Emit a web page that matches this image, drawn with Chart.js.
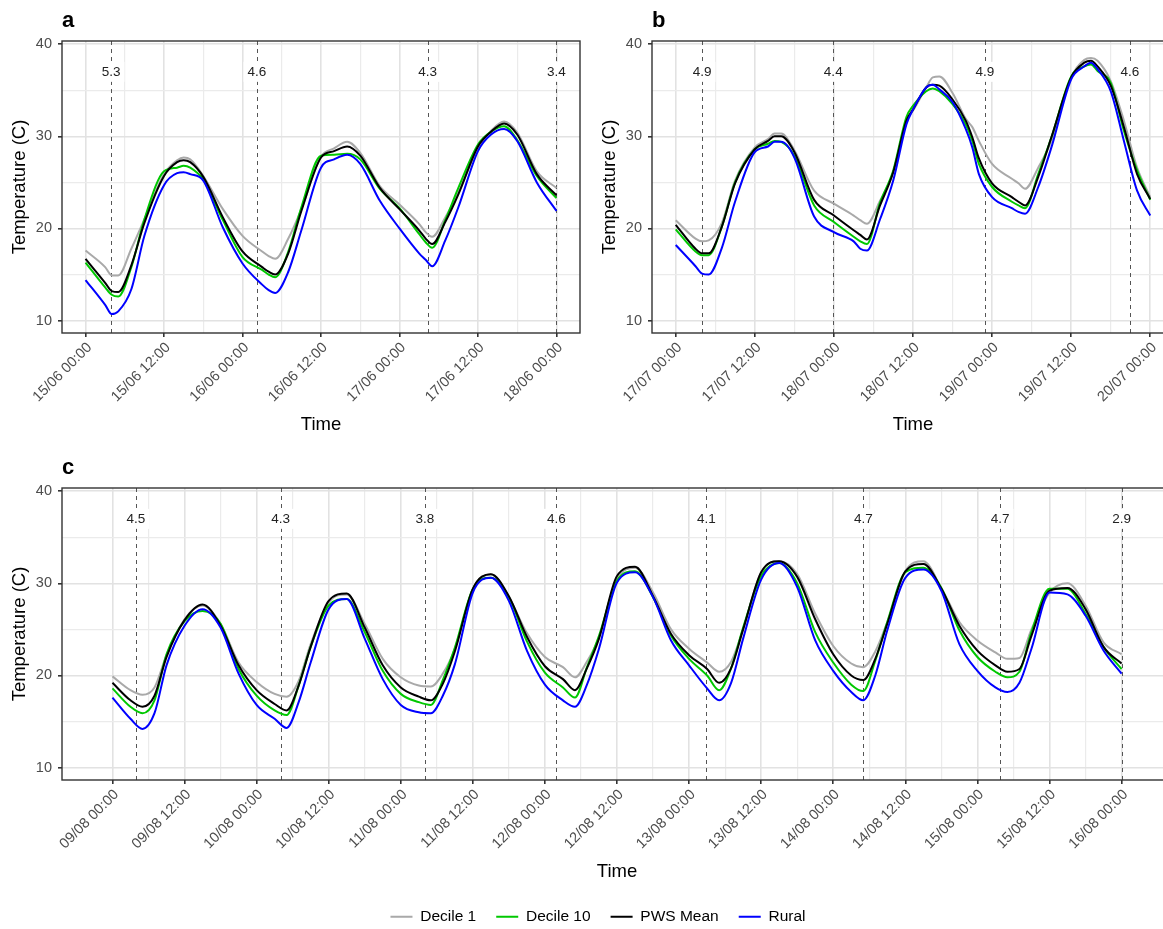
<!DOCTYPE html>
<html>
<head>
<meta charset="utf-8">
<title>Urban vs rural temperature</title>
<script src="https://cdn.jsdelivr.net/npm/chart.js@4.4.1/dist/chart.umd.min.js"></script>
<style>
  html, body { margin: 0; padding: 0; background: #fff; overflow: hidden; }
  body { width: 1163px; height: 929px; position: relative; }
  canvas { position: absolute; }
</style>
</head>
<body>
<canvas id="chartA" width="590" height="440" style="left:0;top:0"></canvas>
<canvas id="chartB" width="600" height="440" style="left:590px;top:0"></canvas>
<canvas id="chartC" width="1190" height="443" style="left:0;top:445px"></canvas>
<canvas id="legendChart" width="600" height="60" style="left:298px;top:889px"></canvas>
<script>
// series names and colours shared by all panels
const seriesNames = ["Decile 1", "Decile 10", "PWS Mean", "Rural"];
const seriesColors = ["#a9a9a9", "#00c800", "#000000", "#0000ff"];

// panel a: hours since 15/06 00:00
const aHours = [0, 3, 4, 5, 7, 9, 12, 14, 15, 16, 18, 21, 24, 27, 28, 29, 31, 33, 36, 38, 40, 42, 45, 48, 51, 52, 53, 55, 57, 60, 62, 64, 66, 69, 72];
const aDecile1 = [17.6, 15.8, 14.9, 14.9, 17.8, 21.0, 25.9, 27.4, 27.7, 27.5, 25.7, 22.1, 19.2, 17.5, 17.0, 16.7, 18.9, 22.1, 27.8, 28.7, 29.4, 28.2, 24.6, 22.6, 20.5, 19.6, 19.1, 21.2, 23.9, 28.7, 30.6, 31.6, 30.4, 26.2, 24.4];
const aDecile10 = [16.3, 13.6, 12.8, 12.6, 15.8, 21.0, 26.2, 26.6, 26.8, 26.6, 25.3, 20.9, 16.9, 15.5, 15.0, 14.7, 17.5, 22.3, 27.9, 28.0, 28.1, 27.5, 24.3, 22.2, 19.4, 18.5, 17.9, 20.9, 24.4, 29.1, 30.5, 31.1, 29.6, 25.7, 23.3];
const aPwsMean = [16.7, 14.1, 13.2, 13.1, 16.0, 20.6, 25.7, 27.2, 27.4, 27.2, 25.6, 21.2, 17.5, 15.8, 15.3, 15.0, 17.3, 21.9, 27.7, 28.4, 28.9, 27.9, 24.4, 22.1, 19.8, 18.9, 18.3, 20.7, 23.7, 28.9, 30.5, 31.4, 30.2, 25.9, 23.6];
const aRural = [14.4, 11.7, 10.7, 11.0, 13.4, 19.2, 24.7, 26.0, 26.1, 25.9, 25.2, 20.1, 16.2, 13.9, 13.3, 13.0, 15.3, 19.8, 26.6, 27.5, 28.0, 27.0, 23.0, 20.0, 17.3, 16.6, 15.9, 18.7, 22.3, 28.4, 30.2, 30.8, 29.5, 25.0, 21.9];
const aTickLabels = ["15/06 00:00", "15/06 12:00", "16/06 00:00", "16/06 12:00", "17/06 00:00", "17/06 12:00", "18/06 00:00"];
const aMarkHours = [3.9, 26.2, 52.3, 72];
const aMarkLabels = ["5.3", "4.6", "4.3", "3.4"];

// panel b: hours since 17/07 00:00
const bHours = [0, 3, 4, 5, 7, 9, 12, 14, 15, 16, 18, 21, 24, 27, 28, 29, 31, 33, 35, 36, 38, 39, 40, 42, 44, 45, 46, 48, 51, 52, 53, 55, 57, 60, 62, 63, 64, 66, 68, 70, 72];
const bDecile1 = [20.9, 18.9, 18.6, 18.7, 20.6, 25.2, 28.8, 29.7, 30.3, 30.3, 28.5, 24.1, 22.7, 21.4, 20.9, 20.5, 23.0, 26.1, 31.8, 32.8, 35.3, 36.4, 36.5, 34.7, 31.9, 31.0, 29.5, 27.0, 25.4, 24.9, 24.3, 26.6, 29.5, 36.4, 38.3, 38.5, 38.2, 36.0, 31.7, 26.6, 23.4];
const bDecile10 = [19.9, 17.5, 17.1, 17.1, 20.2, 25.0, 28.6, 29.2, 29.5, 29.4, 27.9, 22.5, 20.7, 19.1, 18.6, 18.3, 22.8, 26.3, 32.1, 33.3, 34.9, 35.2, 34.9, 33.5, 31.3, 29.5, 27.0, 24.5, 22.9, 22.5, 22.2, 25.9, 29.9, 36.5, 37.6, 37.8, 37.1, 35.8, 30.6, 26.3, 23.1];
const bPwsMean = [20.4, 17.8, 17.3, 17.3, 20.2, 24.9, 28.6, 29.5, 30.0, 30.0, 28.3, 23.1, 21.4, 19.8, 19.3, 18.8, 22.5, 26.1, 31.7, 32.9, 35.3, 35.6, 35.5, 34.0, 31.7, 29.9, 27.6, 24.9, 23.4, 22.9, 22.5, 25.6, 29.9, 36.4, 38.0, 38.2, 37.6, 35.5, 31.0, 25.9, 23.2];
const bRural = [18.2, 15.9, 15.1, 15.0, 17.9, 22.9, 28.3, 28.9, 29.4, 29.4, 27.7, 21.3, 19.6, 18.6, 17.8, 17.6, 21.0, 25.2, 31.3, 32.9, 35.3, 35.6, 35.1, 33.7, 30.8, 28.8, 25.9, 23.4, 22.2, 21.8, 21.6, 24.5, 28.8, 36.2, 37.6, 38.0, 37.3, 34.9, 29.5, 24.1, 21.4];
const bTickLabels = ["17/07 00:00", "17/07 12:00", "18/07 00:00", "18/07 12:00", "19/07 00:00", "19/07 12:00", "20/07 00:00"];
const bMarkHours = [4.0, 23.9, 46.9, 68.9];
const bMarkLabels = ["4.9", "4.4", "4.9", "4.6"];

// panel c: hours since 09/08 00:00
const cHours = [0, 3, 5, 7, 9, 12, 15, 18, 21, 24, 27, 29, 31, 33, 36, 39, 42, 45, 48, 51, 53, 55, 57, 60, 63, 66, 69, 72, 75, 77, 79, 81, 84, 87, 90, 93, 96, 99, 101, 103, 105, 108, 111, 114, 117, 120, 123, 125, 127, 129, 132, 135, 138, 141, 144, 147, 149, 151, 153, 156, 159, 162, 165, 168];
const cDecile1 = [19.9, 18.4, 17.9, 18.7, 22.2, 26.1, 27.6, 25.6, 21.4, 19.3, 18.0, 17.7, 19.4, 23.4, 27.9, 28.8, 25.6, 21.8, 19.8, 18.9, 18.8, 20.2, 22.9, 29.4, 31.0, 28.5, 24.6, 22.0, 20.9, 19.8, 21.5, 24.1, 30.4, 31.7, 29.0, 25.0, 22.9, 21.4, 20.4, 21.5, 25.0, 31.2, 32.4, 31.0, 26.7, 23.2, 21.3, 20.9, 22.6, 25.8, 31.3, 32.4, 29.5, 25.8, 23.8, 22.5, 21.8, 21.9, 25.0, 29.0, 30.0, 27.6, 23.6, 22.3];
const cDecile10 = [18.6, 16.6, 15.9, 17.3, 22.3, 25.9, 27.0, 25.6, 20.7, 17.8, 16.2, 15.7, 18.9, 23.1, 27.6, 28.3, 24.7, 20.5, 18.0, 17.1, 16.8, 19.5, 23.0, 29.4, 30.6, 28.5, 23.7, 20.3, 18.7, 17.6, 20.9, 24.3, 30.3, 31.3, 28.5, 24.3, 21.8, 20.0, 18.4, 20.8, 25.2, 30.8, 32.2, 30.0, 24.7, 21.4, 19.0, 18.3, 21.6, 25.8, 31.2, 31.7, 29.5, 24.9, 22.0, 20.4, 19.8, 20.4, 24.7, 29.4, 29.4, 26.7, 23.1, 20.7];
const cPwsMean = [19.2, 17.3, 16.6, 17.8, 22.0, 26.0, 27.7, 25.4, 21.1, 18.4, 16.9, 16.2, 18.9, 23.1, 28.1, 28.9, 25.2, 21.1, 18.7, 17.7, 17.3, 19.1, 22.6, 29.4, 31.0, 28.6, 24.2, 21.0, 19.6, 18.4, 20.8, 24.0, 30.8, 31.8, 28.6, 24.5, 22.2, 20.7, 19.2, 20.8, 25.0, 31.2, 32.4, 30.7, 26.1, 22.3, 20.0, 19.5, 21.8, 25.6, 31.3, 32.1, 29.4, 25.4, 22.7, 21.1, 20.4, 20.7, 24.3, 29.2, 29.5, 27.2, 23.1, 21.3];
const cRural = [17.6, 15.3, 14.2, 15.9, 21.1, 25.4, 27.2, 25.2, 20.2, 16.8, 15.3, 14.3, 17.1, 21.4, 27.2, 28.3, 24.0, 19.6, 16.8, 16.0, 15.9, 17.8, 21.2, 29.0, 30.6, 28.1, 22.7, 19.0, 17.3, 16.6, 19.0, 22.9, 30.1, 31.2, 28.5, 23.8, 21.1, 18.6, 17.3, 19.2, 24.0, 30.4, 32.2, 29.6, 23.8, 20.5, 18.2, 17.3, 20.0, 24.9, 30.6, 31.5, 29.2, 23.4, 20.5, 18.7, 18.2, 19.2, 22.9, 29.0, 28.8, 26.5, 22.7, 20.2];
const cTickLabels = ["09/08 00:00", "09/08 12:00", "10/08 00:00", "10/08 12:00", "11/08 00:00", "11/08 12:00", "12/08 00:00", "12/08 12:00", "13/08 00:00", "13/08 12:00", "14/08 00:00", "14/08 12:00", "15/08 00:00", "15/08 12:00", "16/08 00:00"];
const cMarkHours = [3.9, 28.0, 52.0, 73.9, 98.9, 125.0, 147.8, 168];
const cMarkLabels = ["4.5", "4.3", "3.8", "4.6", "4.1", "4.7", "4.7", "2.9"];

Chart.defaults.font.family = "'Liberation Sans', Arial, sans-serif";

// dashed marker lines, their labels, panel border and tag letter
const panelDecor = {
  id: "panelDecor",
  beforeDatasetsDraw(chart, args, opts) {
    const { ctx, chartArea, scales } = chart;
    ctx.save();
    ctx.strokeStyle = "#555";
    ctx.lineWidth = 1;
    ctx.setLineDash([4, 4]);
    opts.markHours.forEach((h) => {
      const x = Math.round(scales.x.getPixelForValue(h)) + 0.5;
      ctx.beginPath();
      ctx.moveTo(x, chartArea.top);
      ctx.lineTo(x, chartArea.bottom);
      ctx.stroke();
    });
    ctx.restore();
  },
  afterDatasetsDraw(chart, args, opts) {
    const { ctx, chartArea, scales } = chart;
    ctx.save();
    ctx.font = "13.5px 'Liberation Sans', Arial, sans-serif";
    ctx.textAlign = "center";
    ctx.textBaseline = "middle";
    const y = scales.y.getPixelForValue(opts.labelValue);
    opts.markHours.forEach((h, i) => {
      const x = scales.x.getPixelForValue(h);
      const w = ctx.measureText(opts.markLabels[i]).width + 8;
      ctx.fillStyle = "#fff";
      ctx.fillRect(x - w / 2, y - 10, w, 20);
      ctx.fillStyle = "#222";
      ctx.fillText(opts.markLabels[i], x, y + 0.5);
    });
    ctx.strokeStyle = "#333";
    ctx.lineWidth = 1.4;
    ctx.strokeRect(chartArea.left, chartArea.top, chartArea.right - chartArea.left, chartArea.bottom - chartArea.top);
    ctx.fillStyle = "#000";
    ctx.textAlign = "left";
    ctx.textBaseline = "alphabetic";
    ctx.font = "bold 22px 'Liberation Sans', Arial, sans-serif";
    ctx.fillText(opts.letter, chartArea.left, chartArea.top - 14);
    ctx.restore();
  }
};

function buildPanel(id, letter, hours, series, tickLabels, markHours, markLabels, span, pad) {
  const xPad = span * 0.05;
  return new Chart(document.getElementById(id), {
    type: "line",
    data: {
      datasets: series.map((vals, i) => ({
        label: seriesNames[i],
        data: hours.map((h, j) => ({ x: h, y: vals[j] })),
        borderColor: seriesColors[i],
        borderWidth: 2,
        pointRadius: 0,
        cubicInterpolationMode: "monotone",
        order: series.length - i
      }))
    },
    options: {
      responsive: false,
      animation: false,
      devicePixelRatio: 1,
      layout: { padding: pad },
      plugins: {
        legend: { display: false },
        tooltip: { enabled: false },
        panelDecor: { letter: letter, markHours: markHours, markLabels: markLabels, labelValue: 37 }
      },
      scales: {
        x: {
          type: "linear",
          min: -xPad,
          max: span + xPad,
          afterBuildTicks: (scale) => {
            const t = [];
            for (let v = 0; v <= span; v += 6) t.push({ value: v });
            scale.ticks = t;
          },
          afterFit: (scale) => { scale.height = 107; },
          ticks: {
            autoSkip: false,
            minRotation: 45,
            maxRotation: 45,
            labelOffset: 4,
            color: "#4d4d4d",
            font: { size: 14.5 },
            padding: 2,
            callback: (v) => (v % 12 === 0 ? tickLabels[v / 12] : "")
          },
          grid: {
            color: (c) => (c.tick && c.tick.value % 12 === 0 ? "#e2e2e2" : "#ebebeb"),
            lineWidth: (c) => (c.tick && c.tick.value % 12 === 0 ? 1.6 : 1.2),
            tickLength: 4,
            tickColor: (c) => (c.tick && c.tick.value % 12 === 0 ? "#333" : "rgba(0,0,0,0)")
          },
          border: { display: false },
          title: { display: true, text: "Time", color: "#000", font: { size: 18.5 }, padding: { top: 0, bottom: 4.4 } }
        },
        y: {
          min: 8.65,
          max: 40.35,
          afterBuildTicks: (scale) => {
            scale.ticks = [10, 15, 20, 25, 30, 35, 40].map((v) => ({ value: v }));
          },
          afterFit: (scale) => { scale.width = 62; },
          ticks: {
            color: "#4d4d4d",
            font: { size: 14.5 },
            padding: 6,
            callback: (v) => (v % 10 === 0 ? v : "")
          },
          grid: {
            color: (c) => (c.tick && c.tick.value % 10 === 0 ? "#e2e2e2" : "#ebebeb"),
            lineWidth: (c) => (c.tick && c.tick.value % 10 === 0 ? 1.6 : 1.2),
            tickLength: 4,
            tickColor: (c) => (c.tick && c.tick.value % 10 === 0 ? "#333" : "rgba(0,0,0,0)")
          },
          border: { display: false },
          title: { display: true, text: "Temperature (C)", color: "#000", font: { size: 18.5 }, padding: { top: 9, bottom: 0 } }
        }
      }
    },
    plugins: [panelDecor]
  });
}

buildPanel("chartA", "a", aHours, [aDecile1, aDecile10, aPwsMean, aRural], aTickLabels, aMarkHours, aMarkLabels, 72,
  { top: 41, right: 10, bottom: 0, left: 0 });
buildPanel("chartB", "b", bHours, [bDecile1, bDecile10, bPwsMean, bRural], bTickLabels, bMarkHours, bMarkLabels, 72,
  { top: 41, right: 16, bottom: 0, left: 0 });
buildPanel("chartC", "c", cHours, [cDecile1, cDecile10, cPwsMean, cRural], cTickLabels, cMarkHours, cMarkLabels, 168,
  { top: 43, right: 18, bottom: 1, left: 0 });

// shared legend under the panels
new Chart(document.getElementById("legendChart"), {
  type: "line",
  data: {
    datasets: seriesNames.map((name, i) => ({
      label: name,
      data: [],
      borderColor: seriesColors[i],
      backgroundColor: seriesColors[i],
      borderWidth: 2
    }))
  },
  options: {
    responsive: false,
    animation: false,
    devicePixelRatio: 1,
    scales: { x: { display: false }, y: { display: false } },
    plugins: {
      tooltip: { enabled: false },
      legend: {
        position: "top",
        maxHeight: 50,
        onClick: null,
        labels: {
          usePointStyle: true,
          pointStyle: "line",
          pointStyleWidth: 22,
          color: "#000",
          font: { size: 15.5 },
          padding: 20
        }
      }
    }
  }
});
</script>
</body>
</html>
